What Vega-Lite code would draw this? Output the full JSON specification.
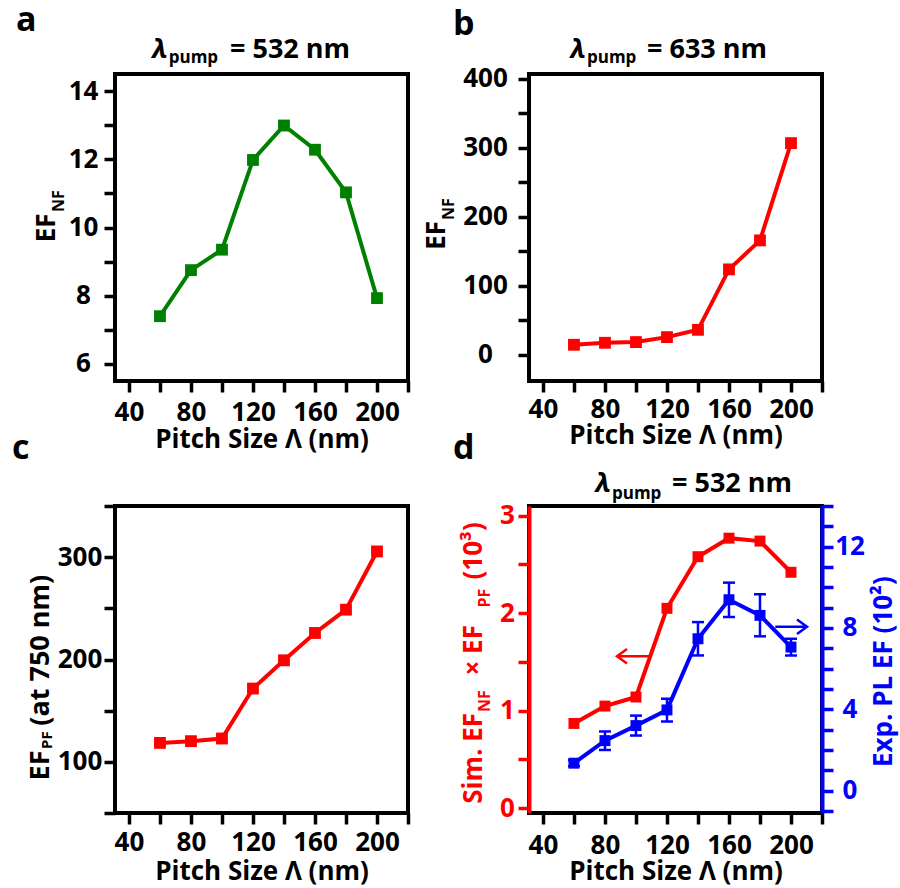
{
  "$schema": "https://vega.github.io/schema/vega-lite/v6.json",
  "background": "white",
  "padding": {"left": 10, "top": 2, "right": 5, "bottom": 2},
  "columns": 2,
  "spacing": {"row": 125, "column": 121},
  "bounds": "flush",
  "config": {
    "font": "Open Sans",
    "view": {"stroke": "black", "strokeWidth": 4},
    "axis": {
      "labelFont": "Open Sans", "labelFontSize": 26, "labelFontWeight": "bold", "labelColor": "black",
      "titleFont": "Open Sans", "titleFontSize": 26, "titleFontWeight": "bold", "titleColor": "black",
      "tickColor": "black", "tickWidth": 3.5, "tickSize": 11, "domain": false, "grid": false,
      "labelFlush": false, "labelOverlap": false, "labelBound": false, "format": "d"
    },
    "text": {"font": "Open Sans", "fontWeight": "bold", "baseline": "alphabetic", "align": "left", "color": "black"}
  },
  "concat": [
    {
      "width": 293, "height": 307,
      "data": {"values": [
        {"pitch": 60, "ef": 7.4}, {"pitch": 80, "ef": 8.75}, {"pitch": 100, "ef": 9.35}, {"pitch": 120, "ef": 11.98},
        {"pitch": 140, "ef": 12.99}, {"pitch": 160, "ef": 12.28}, {"pitch": 180, "ef": 11.03}, {"pitch": 200, "ef": 7.93}
      ]},
      "layer": [
        {
          "encoding": {
            "x": {"field": "pitch", "type": "quantitative", "scale": {"domain": [31, 220], "nice": false, "zero": false},
              "axis": {"values": [40, 60, 80, 100, 120, 140, 160, 180, 200, 220],
                "labelExpr": "datum.value % 40 == 0 ? datum.label : ''", "title": "Pitch Size Λ (nm)",
                "labelPadding": 7, "titlePadding": 1,
                "encode": {"ticks": {"update": {"y2": {"signal": "datum.value % 40 == 0 ? 11 : 6"}}}}}},
            "y": {"field": "ef", "type": "quantitative", "scale": {"domain": [5.5, 14.5], "nice": false, "zero": false},
              "axis": {"values": [6, 7, 8, 9, 10, 11, 12, 13, 14],
                "labelExpr": "datum.value % 2 == 0 ? datum.label : ''", "labelAlign": "center", "labelPadding": 21, "title": null,
                "encode": {"ticks": {"update": {"x2": {"signal": "datum.value % 2 == 0 ? -11 : -6"}}}}}}
          },
          "layer": [
            {"mark": {"type": "line", "color": "#008000", "strokeWidth": 4}},
            {"mark": {"type": "point", "shape": "square", "filled": true, "color": "#008000", "size": 140, "opacity": 1}}
          ]
        },
        {
          "transform": [{"filter": "datum.pitch == 60"}],
          "layer": [
            {"mark": {"type": "text", "text": "a", "fontSize": 34, "dx": -245.5, "dy": -196.5}},
            {"mark": {"type": "text", "text": "λ", "fontSize": 27, "fontStyle": "italic", "dx": -109.5, "dy": -169.5}},
            {"mark": {"type": "text", "text": "pump", "fontSize": 17, "dx": -92.8, "dy": -164.5}},
            {"mark": {"type": "text", "text": "= 532 nm", "fontSize": 27, "dx": -31.5, "dy": -169.5}},
            {"mark": {"type": "text", "text": "EF", "fontSize": 26, "angle": 270, "align": "right", "dx": 14, "dy": -206.2}},
            {"mark": {"type": "text", "text": "NF", "fontSize": 16, "angle": 270, "align": "left", "dx": 15.5, "dy": -197.8}}
          ]
        }
      ]
    },
    {
      "width": 293, "height": 307,
      "data": {"values": [
        {"pitch": 60, "ef": 14.5}, {"pitch": 80, "ef": 17.4}, {"pitch": 100, "ef": 18.4}, {"pitch": 120, "ef": 25.6},
        {"pitch": 140, "ef": 36.2}, {"pitch": 160, "ef": 123.8}, {"pitch": 180, "ef": 165.8}, {"pitch": 200, "ef": 306.8}
      ]},
      "layer": [
        {
          "encoding": {
            "x": {"field": "pitch", "type": "quantitative", "scale": {"domain": [31, 220], "nice": false, "zero": false},
              "axis": {"values": [40, 60, 80, 100, 120, 140, 160, 180, 200, 220],
                "labelExpr": "datum.value % 40 == 0 ? datum.label : ''", "title": "Pitch Size Λ (nm)",
                "labelPadding": 4, "titlePadding": 0,
                "encode": {"ticks": {"update": {"y2": {"signal": "datum.value % 40 == 0 ? 11 : 6"}}}}}},
            "y": {"field": "ef", "type": "quantitative", "scale": {"domain": [-38, 407], "nice": false, "zero": false},
              "axis": {"values": [0, 50, 100, 150, 200, 250, 300, 350, 400],
                "labelExpr": "datum.value % 100 == 0 ? datum.label : ''", "labelAlign": "center", "labelPadding": 33, "title": null,
                "encode": {"ticks": {"update": {"x2": {"signal": "datum.value % 100 == 0 ? -11 : -6"}}}}}}
          },
          "layer": [
            {"mark": {"type": "line", "color": "#ff0000", "strokeWidth": 4}},
            {"mark": {"type": "point", "shape": "square", "filled": true, "color": "#ff0000", "size": 140, "opacity": 1}}
          ]
        },
        {
          "transform": [{"filter": "datum.pitch == 60"}],
          "layer": [
            {"mark": {"type": "text", "text": "b", "fontSize": 34, "dx": -222.5, "dy": -192.5}},
            {"mark": {"type": "text", "text": "λ", "fontSize": 27, "fontStyle": "italic", "dx": -105.2, "dy": -169.5}},
            {"mark": {"type": "text", "text": "pump", "fontSize": 17, "dx": -88.5, "dy": -164.5}},
            {"mark": {"type": "text", "text": "= 633 nm", "fontSize": 27, "dx": -28.5, "dy": -169.5}},
            {"mark": {"type": "text", "text": "EF", "fontSize": 26, "angle": 270, "align": "right", "dx": 6.5, "dy": -230.2}},
            {"mark": {"type": "text", "text": "NF", "fontSize": 16, "angle": 270, "align": "left", "dx": 7.5, "dy": -221.8}}
          ]
        }
      ]
    },
    {
      "width": 293, "height": 307,
      "data": {"values": [
        {"pitch": 60, "ef": 118.5}, {"pitch": 80, "ef": 120.2}, {"pitch": 100, "ef": 122.8}, {"pitch": 120, "ef": 171.6},
        {"pitch": 140, "ef": 199.2}, {"pitch": 160, "ef": 225.9}, {"pitch": 180, "ef": 248.7}, {"pitch": 200, "ef": 305.6}
      ]},
      "layer": [
        {
          "encoding": {
            "x": {"field": "pitch", "type": "quantitative", "scale": {"domain": [31, 220], "nice": false, "zero": false},
              "axis": {"values": [40, 60, 80, 100, 120, 140, 160, 180, 200, 220],
                "labelExpr": "datum.value % 40 == 0 ? datum.label : ''", "title": "Pitch Size Λ (nm)",
                "labelPadding": 5, "titlePadding": 3,
                "encode": {"ticks": {"update": {"y2": {"signal": "datum.value % 40 == 0 ? 11 : 6"}}}}}},
            "y": {"field": "ef", "type": "quantitative", "scale": {"domain": [50, 350], "nice": false, "zero": false},
              "axis": {"values": [50, 100, 150, 200, 250, 300, 350],
                "labelExpr": "datum.value % 100 == 0 ? datum.label : ''", "labelAlign": "center", "labelPadding": 24.5, "title": null,
                "encode": {"ticks": {"update": {"x2": {"signal": "datum.value % 100 == 0 ? -11 : -6"}}}}}}
          },
          "layer": [
            {"mark": {"type": "line", "color": "#ff0000", "strokeWidth": 4}},
            {"mark": {"type": "point", "shape": "square", "filled": true, "color": "#ff0000", "size": 140, "opacity": 1}}
          ]
        },
        {
          "transform": [{"filter": "datum.pitch == 60"}],
          "layer": [
            {"mark": {"type": "text", "text": "c", "fontSize": 34, "dx": -249.5, "dy": -200.5}},
            {"mark": {"type": "text", "text": "EF", "fontSize": 27, "angle": 270, "align": "right", "dx": -91, "dy": -212.8}},
            {"mark": {"type": "text", "text": "PF", "fontSize": 15, "angle": 270, "align": "left", "dx": -89.5, "dy": -209.5}},
            {"mark": {"type": "text", "text": "(at 750 nm)", "fontSize": 27, "angle": 270, "align": "left", "dx": -66.2, "dy": -212.8}}
          ]
        }
      ]
    },
    {
      "width": 293, "height": 307,
      "data": {"values": [
        {"pitch": 60, "sim": 0.869, "exp": 1.35, "lo": 1.2, "hi": 1.5},
        {"pitch": 80, "sim": 1.047, "exp": 2.46, "lo": 2.0, "hi": 2.91},
        {"pitch": 100, "sim": 1.14, "exp": 3.2, "lo": 2.71, "hi": 3.69},
        {"pitch": 120, "sim": 2.05, "exp": 3.97, "lo": 3.4, "hi": 4.52},
        {"pitch": 140, "sim": 2.58, "exp": 7.47, "lo": 6.65, "hi": 8.29},
        {"pitch": 160, "sim": 2.77, "exp": 9.39, "lo": 8.54, "hi": 10.23},
        {"pitch": 180, "sim": 2.74, "exp": 8.62, "lo": 7.59, "hi": 9.66},
        {"pitch": 200, "sim": 2.42, "exp": 7.06, "lo": 6.65, "hi": 7.47}
      ]},
      "resolve": {"scale": {"y": "independent"}, "axis": {"y": "independent"}},
      "layer": [
        {
          "encoding": {
            "x": {"field": "pitch", "type": "quantitative", "scale": {"domain": [31, 220], "nice": false, "zero": false},
              "axis": {"values": [40, 60, 80, 100, 120, 140, 160, 180, 200, 220],
                "labelExpr": "datum.value % 40 == 0 ? datum.label : ''", "title": "Pitch Size Λ (nm)",
                "labelPadding": 8, "titlePadding": 0,
                "encode": {"ticks": {"update": {"y2": {"signal": "datum.value % 40 == 0 ? 11 : 6"}}}}}},
            "y": {"field": "sim", "type": "quantitative", "scale": {"domain": [-0.05, 3.1], "nice": false, "zero": false},
              "axis": {"orient": "left", "values": [0, 0.5, 1, 1.5, 2, 2.5, 3],
                "labelExpr": "datum.value % 1 == 0 ? datum.label : ''", "labelAlign": "center", "labelPadding": 11, "title": null,
                "labelColor": "#ff0000", "tickColor": "#ff0000", "domain": true, "domainColor": "#ff0000", "domainWidth": 4,
                "encode": {"ticks": {"update": {"x2": {"signal": "datum.value % 1 == 0 ? -11 : -6"}}}}}}
          },
          "layer": [
            {"mark": {"type": "line", "color": "#ff0000", "strokeWidth": 4}},
            {"mark": {"type": "point", "shape": "square", "filled": true, "color": "#ff0000", "size": 120, "opacity": 1}}
          ]
        },
        {
          "encoding": {
            "x": {"field": "pitch", "type": "quantitative", "scale": {"domain": [31, 220], "nice": false, "zero": false},
              "axis": {"values": [40, 60, 80, 100, 120, 140, 160, 180, 200, 220],
                "labelExpr": "datum.value % 40 == 0 ? datum.label : ''", "title": "Pitch Size Λ (nm)",
                "labelPadding": 8, "titlePadding": 0,
                "encode": {"ticks": {"update": {"y2": {"signal": "datum.value % 40 == 0 ? 11 : 6"}}}}}},
            "y": {"field": "exp", "type": "quantitative", "scale": {"domain": [-1.1, 14], "nice": false, "zero": false},
              "axis": {"orient": "right", "values": [-1, 0, 1, 2, 3, 4, 5, 6, 7, 8, 9, 10, 11, 12, 13, 14],
                "labelExpr": "datum.value % 4 == 0 ? datum.label : ''", "labelAlign": "center", "labelPadding": 16.5, "title": null,
                "labelColor": "#0000ff", "tickColor": "#0000ff", "domain": true, "domainColor": "#0000ff", "domainWidth": 4,
                "encode": {"ticks": {"update": {"x2": {"signal": "datum.value % 4 == 0 ? 11 : 6"}}}}}}
          },
          "layer": [
            {"mark": {"type": "line", "color": "#0000ff", "strokeWidth": 4}},
            {"mark": {"type": "rule", "color": "#0000ff", "strokeWidth": 2.5}, "encoding": {"y": {"field": "lo", "type": "quantitative"}, "y2": {"field": "hi"}}},
            {"mark": {"type": "tick", "orient": "horizontal", "color": "#0000ff", "size": 12, "thickness": 2.5, "opacity": 1}, "encoding": {"y": {"field": "lo", "type": "quantitative"}}},
            {"mark": {"type": "tick", "orient": "horizontal", "color": "#0000ff", "size": 12, "thickness": 2.5, "opacity": 1}, "encoding": {"y": {"field": "hi", "type": "quantitative"}}},
            {"mark": {"type": "point", "shape": "square", "filled": true, "color": "#0000ff", "size": 120, "opacity": 1}}
          ]
        },
        {
          "transform": [{"filter": "datum.pitch == 60"}],
          "layer": [
            {"mark": {"type": "point", "shape": "M-23.5,-3.2L-58.5,-3.2M-48.5,-10.5L-58.5,-3.2L-48.5,4.1", "size": 4, "filled": false, "stroke": "#ff0000", "strokeWidth": 2.5, "opacity": 1}},
            {"mark": {"type": "point", "shape": "M99.8,-32.8L131.5,-32.8M121.5,-40.1L131.5,-32.8L121.5,-25.5", "size": 4, "filled": false, "stroke": "#0000ff", "strokeWidth": 2.5, "opacity": 1}},
            {"mark": {"type": "text", "text": "d", "fontSize": 34, "dx": -222.5, "dy": -200.5}},
            {"mark": {"type": "text", "text": "λ", "fontSize": 27, "fontStyle": "italic", "dx": -80.2, "dy": -168}},
            {"mark": {"type": "text", "text": "pump", "fontSize": 17, "dx": -63.5, "dy": -161}},
            {"mark": {"type": "text", "text": "= 532 nm", "fontSize": 27, "dx": -3.5, "dy": -168}},
            {"mark": {"type": "text", "text": "Sim. EF", "fontSize": 26, "color": "#ff0000", "angle": 270, "align": "right", "dx": -53.5, "dy": -193.5}},
            {"mark": {"type": "text", "text": "NF", "fontSize": 16, "color": "#ff0000", "angle": 270, "align": "left", "dx": -52.5, "dy": -185.5}},
            {"mark": {"type": "text", "text": "× EF", "fontSize": 26, "color": "#ff0000", "angle": 270, "align": "left", "dx": -16, "dy": -193.5}},
            {"mark": {"type": "text", "text": "PF", "fontSize": 16, "color": "#ff0000", "angle": 270, "align": "left", "dx": 52, "dy": -185.5}},
            {"mark": {"type": "text", "text": "(10³)", "fontSize": 26, "color": "#ff0000", "angle": 270, "align": "left", "dx": 80, "dy": -193.5}},
            {"mark": {"type": "text", "text": "Exp. PL EF (10²)", "fontSize": 26, "color": "#0000ff", "angle": 270, "align": "left", "dx": -107.5, "dy": 216}}
          ]
        }
      ]
    }
  ]
}
